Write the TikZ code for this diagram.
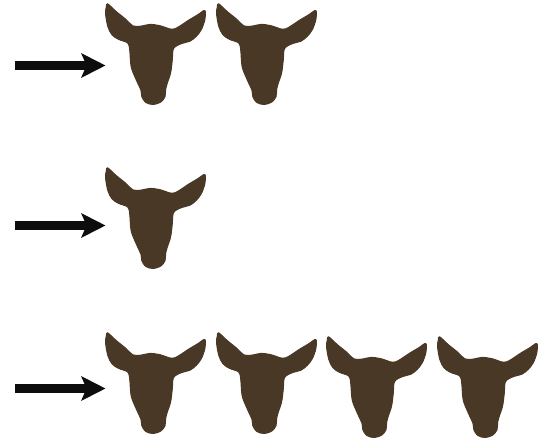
\documentclass[tikz,border=0pt]{standalone}
\usetikzlibrary{arrows.meta}
\definecolor{headbrown}{HTML}{4A3826}
\definecolor{arrowblack}{HTML}{0D0D0D}
\tikzset{
  goat/.pic={
    \filldraw[fill=headbrown,draw=headbrown,line width=1pt,line join=round] plot[smooth cycle,tension=0.55] coordinates {
      (2.6,0.8) (11.7,9) (20,15.6) (28.3,23) (36.7,23) (45,21.4) (55,22.7)
      (66.7,26.3) (73.3,24) (83.3,17.4) (93.3,11.4) (98.7,7.6) (100.4,9) (99.8,17)
      (96.3,26.7) (91.3,33.3) (85,38.2) (76.7,40.5) (68.6,45.5) (67.3,57) (65.6,70)
      (62,81) (60.6,87) (60,93.7) (55.8,99) (48.3,101.5) (40.8,99.5) (36.8,93.7)
      (36,87.5) (30.4,75) (26.1,63.5) (24.7,47) (22.7,40) (13.6,36.4) (7,31.8)
      (2.8,23.5) (0.5,10.3) (1.4,3.9)
    };
  },
  pointer/.style={draw=arrowblack,line width=8.3pt,-{Stealth[length=24pt,width=24pt,inset=5pt,fill=arrowblack]}}
}
\begin{document}
\begin{tikzpicture}[x=1pt,y=-1pt]
\useasboundingbox (0,0) rectangle (538,441);
\pic at (105,3) {goat};
\pic at (216,3) {goat};
\pic at (105,167) {goat};
\pic at (105,332) {goat};
\pic at (216,332) {goat};
\pic at (326,336) {goat};
\pic at (437,336) {goat};
\coordinate (a1s) at (15,65.5); \coordinate (a1e) at (105.5,65.5);
\coordinate (a2s) at (15,225.5); \coordinate (a2e) at (105.5,225.5);
\coordinate (a3s) at (15,388.5); \coordinate (a3e) at (105.5,388.5);
\draw[pointer] (a1s) -- (a1e);
\draw[pointer] (a2s) -- (a2e);
\draw[pointer] (a3s) -- (a3e);
\end{tikzpicture}
\end{document}
